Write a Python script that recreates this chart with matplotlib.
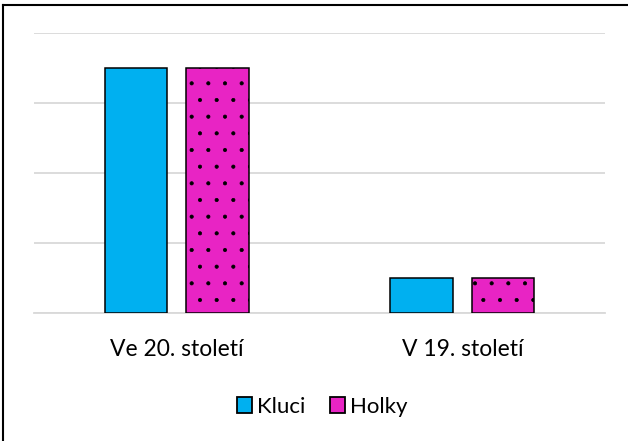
import numpy as np
import matplotlib
matplotlib.use("Agg")
import matplotlib.pyplot as plt
from matplotlib.lines import Line2D

# data
categories = ["Ve 20. století", "V 19. století"]
kluci = [3.5, 0.5]
holky = [3.5, 0.5]
series_names = ["Kluci", "Holky"]

blue = "#00B0F0"
pink = "#E824C4"

plt.rcParams['font.family'] = ['Lato', 'DejaVu Sans']
plt.rcParams['hatch.linewidth'] = 0.5

fig = plt.figure(figsize=(6.28, 4.41), dpi=100)
ax = fig.add_axes([34/628, 1 - 313/441, 571/628, 280/441])

x = np.arange(len(categories))
w = 0.22
ax.bar(x - 0.1425, kluci, w, color=blue, edgecolor="black", linewidth=1.1,
       label=series_names[0], zorder=3)
ax.bar(x + 0.1425, holky, w, color=pink, edgecolor="black", linewidth=1.1,
       hatch=".", label=series_names[1], zorder=3)

ax.set_xlim(-0.5, 1.5)
ax.set_ylim(0, 4)
ax.set_yticks(np.arange(0, 5, 1))
ax.yaxis.grid(True, color="#d9d9d9", linewidth=1.3, zorder=0)
ax.tick_params(axis="y", left=False, labelleft=False)
ax.tick_params(axis="x", bottom=False, labelsize=16.5, pad=15)
ax.set_xticks(x)
ax.set_xticklabels(categories)
for s in ["top", "right", "left"]:
    ax.spines[s].set_visible(False)
ax.spines["bottom"].set_color("#d9d9d9")
ax.spines["bottom"].set_linewidth(1.3)

leg = fig.legend(loc="center", bbox_to_anchor=(322/628, 1 - 407/441), ncol=2,
                 frameon=False, fontsize=16, handlelength=0.7, handleheight=0.7,
                 handletextpad=0.2, columnspacing=1.1)
for h in leg.legend_handles:
    h.set_hatch(None)
    h.set_linewidth(1.3)

# chart frame (only top and left edges visible)
fig.add_artist(Line2D([3.5/628, 3.5/628], [0, 1 - 4.5/441], color="black", linewidth=1.5))
fig.add_artist(Line2D([3.5/628, 1], [1 - 4.5/441, 1 - 4.5/441], color="black", linewidth=1.5))

fig.savefig("out.png", dpi=100)
